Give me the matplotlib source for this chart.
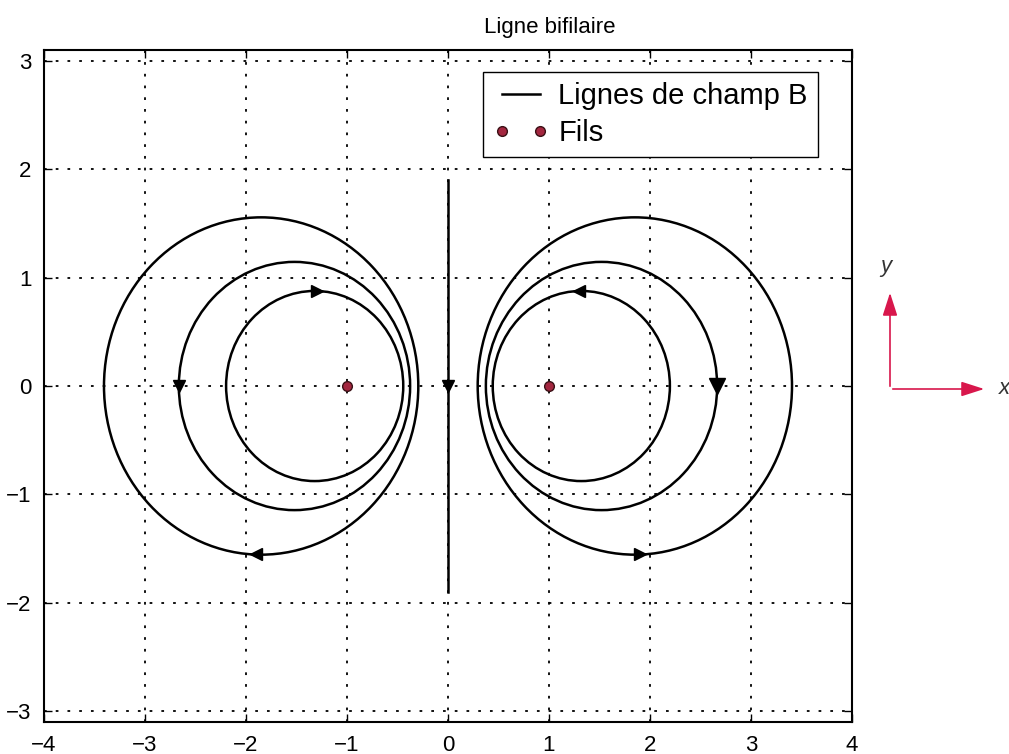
import matplotlib
matplotlib.use('Agg')
import matplotlib.pyplot as plt
from matplotlib.patches import Circle

plt.rcParams['font.family'] = ['Liberation Sans', 'DejaVu Sans']

# Lignes de champ : cercles (centre sur l'axe x, rayon)
centres_x = [-1.85, -1.52, -1.32, 1.85, 1.52, 1.32]
rayons = [1.556, 1.145, 0.877, 1.556, 1.145, 0.877]

# Ligne de champ mediane (x = 0)
mediane_x = [0, 0]
mediane_y = [1.9, -1.9]

# Position des fils
fils_x = [-1, 1]
fils_y = [0, 0]

# Fleches (position, marqueur de direction, taille)
fleches_x = [-1.30, -2.665, -1.90, 0.0, 1.30, 2.665, 1.90]
fleches_y = [0.877, 0.0, -1.55, 0.0, 0.877, 0.0, -1.55]
fleches_dir = ['>', 'v', '<', 'v', '<', 'v', '>']
fleches_taille = [8, 8, 8, 8, 8, 12, 8]

fig = plt.figure(figsize=(10.09, 7.54), dpi=100)
ax = fig.add_axes([0.0436, 0.0424, 0.8008, 0.8913])

for cx, r in zip(centres_x, rayons):
    ax.add_patch(Circle((cx, 0), r, fill=False, color='black', lw=1.8, zorder=3))

ax.plot(mediane_x, mediane_y, '-', color='black', lw=1.8, zorder=3, label='Lignes de champ B')
ax.plot(fils_x, fils_y, 'o', ms=7, mfc='#a3263f', mec='#3a1015', mew=1.0, zorder=4, label='Fils')

for xf, yf, m, s in zip(fleches_x, fleches_y, fleches_dir, fleches_taille):
    ax.plot(xf, yf, marker=m, ms=s, color='black', zorder=5)

ax.set_xlim(-4, 4)
ax.set_ylim(-3.1, 3.1)
ax.set_xticks(range(-4, 5))
ax.set_yticks(range(-3, 4))
ax.grid(True, color='black', linestyle=(0, (1.5, 5)), lw=1.3)
ax.tick_params(direction='in', top=True, right=True, length=6, width=1, labelsize=16, pad=9)
for sp in ax.spines.values():
    sp.set_linewidth(1.5)

fig.text(0.545, 0.963, 'Ligne bifilaire', ha='center', va='center', fontsize=16)

leg = ax.legend(loc='upper right', bbox_to_anchor=(0.958, 0.967), borderaxespad=0,
                numpoints=2, fancybox=False, framealpha=1, edgecolor='black',
                fontsize=21, handlelength=1.9, handletextpad=0.35, labelspacing=0.3,
                borderpad=0.35)
leg.get_frame().set_linewidth(1.0)

# Repere rouge (x, y) a droite du graphique
W, H = 1009, 754
def fp(px, py):
    return (px / W, 1 - py / H)

ax.annotate('', xy=fp(890, 290), xytext=fp(890, 389), xycoords='figure fraction',
            arrowprops=dict(arrowstyle='-|>,head_length=1.4,head_width=0.45', color='#d8174c', lw=1.2))
ax.annotate('', xy=fp(987, 389), xytext=fp(890, 389), xycoords='figure fraction',
            arrowprops=dict(arrowstyle='-|>,head_length=1.4,head_width=0.45', color='#d8174c', lw=1.2))
fig.text(*fp(886, 266), 'y', fontsize=16, style='italic', ha='center', va='center', color='#333333')
fig.text(*fp(1004, 388), 'x', fontsize=16, style='italic', ha='center', va='center', color='#333333')

fig.savefig('out.png', dpi=100)
